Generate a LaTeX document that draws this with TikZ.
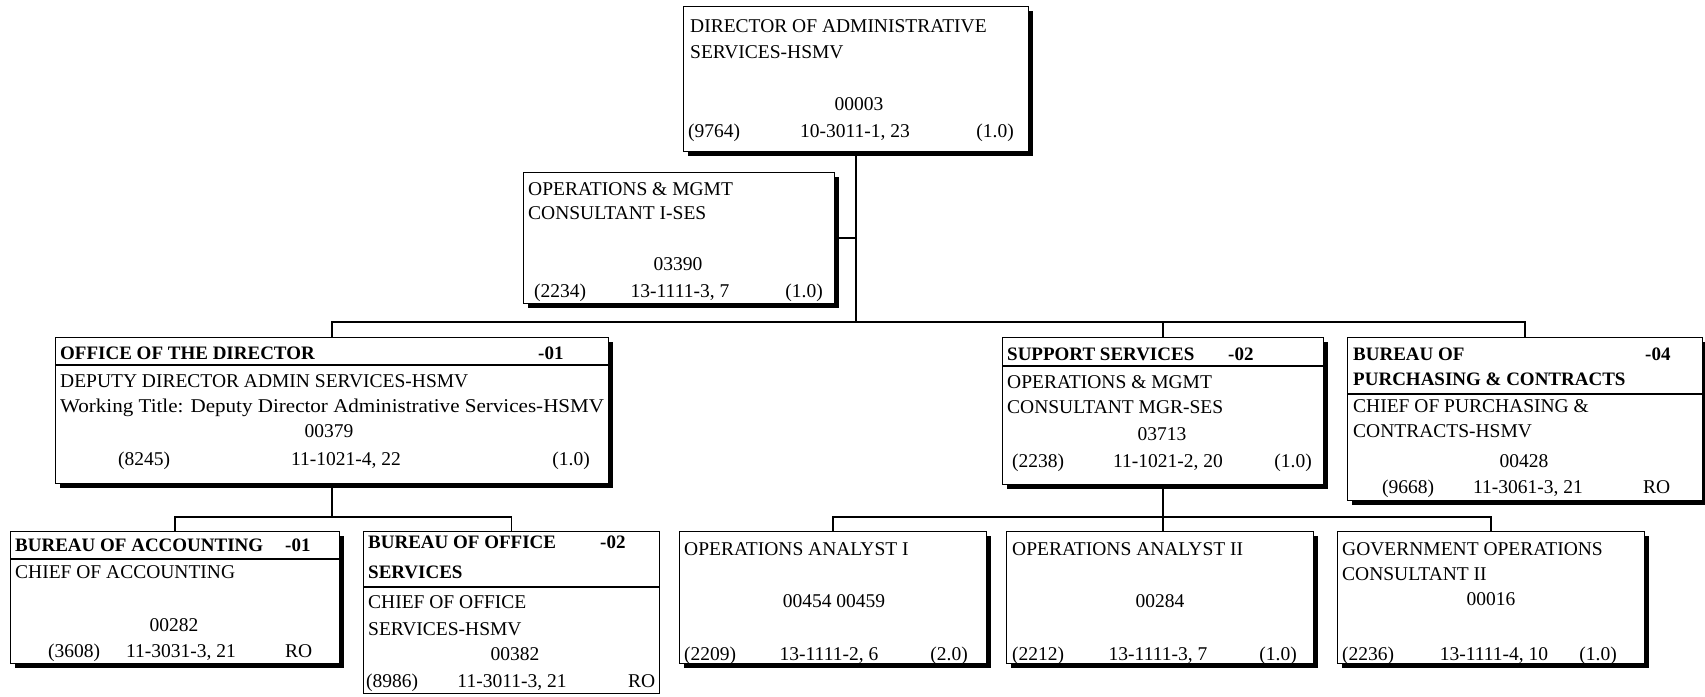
\documentclass[tikz,border=0pt]{standalone}
\usepackage{fontspec}
\setmainfont{Liberation Serif}
\usetikzlibrary{shadows}
\begin{document}
\begin{tikzpicture}[x=1pt,y=-1pt,
  every node/.style={font=\fontsize{19.5}{23}\selectfont},
  box/.style={draw, line width=1.3pt, fill=white, inner sep=0pt, anchor=north west},
  shad/.style={drop shadow={shadow xshift=4pt,shadow yshift=-4pt,fill=black,opacity=1}},
  conn/.style={line width=1.6pt},
  sep/.style={line width=1.3pt},
  tl/.style={inner sep=0pt, anchor=base west},
  tc/.style={inner sep=0pt, anchor=base},
  tr/.style={inner sep=0pt, anchor=base east},
  hd/.style={inner sep=0pt, anchor=base west, font=\fontsize{19}{23}\selectfont\bfseries}]
\useasboundingbox (0,0) rectangle (1705,696);
\fill[white] (0,0) rectangle (1705,696);
% coordinates of the two bus lines
\coordinate (busA) at (0,322);
\coordinate (busB) at (0,517);
% ---------- boxes ----------
\node[box,shad,minimum width=345pt,minimum height=145pt] (top) at (683,6) {};
\node[box,shad,minimum width=311pt,minimum height=131pt] (ops) at (523,172) {};
\node[box,shad,minimum width=553pt,minimum height=146pt] (off) at (55,337) {};
\node[box,shad,minimum width=321pt,minimum height=147pt] (sup) at (1002,337) {};
\node[box,shad,minimum width=355pt,minimum height=163pt] (pur) at (1347,337) {};
\node[box,shad,minimum width=329pt,minimum height=132pt] (acc) at (10,531) {};
\node[box,minimum width=296pt,minimum height=162pt] (osv) at (363,531) {};
\node[box,shad,minimum width=307pt,minimum height=132pt] (an1) at (679,531) {};
\node[box,shad,minimum width=307pt,minimum height=132pt] (an2) at (1006,531) {};
\node[box,shad,minimum width=307pt,minimum height=132pt] (gov) at (1337,531) {};
% header separators
\draw[sep] ([yshift=-28pt]off.north west) -- ([yshift=-28pt]off.north east);
\draw[sep] ([yshift=-29pt]sup.north west) -- ([yshift=-29pt]sup.north east);
\draw[sep] ([yshift=-57pt]pur.north west) -- ([yshift=-57pt]pur.north east);
\draw[sep] ([yshift=-28pt]acc.north west) -- ([yshift=-28pt]acc.north east);
\draw[sep] ([yshift=-56pt]osv.north west) -- ([yshift=-56pt]osv.north east);
% ---------- connectors ----------
\draw[conn] (top.south) -- (top.south |- busA);
\draw[conn] (ops.east) -- (ops.east -| top.south);
\draw[conn] (off.north) |- (busA -| pur.north) -- (pur.north);
\draw[conn] (sup.north) -- (sup.north |- busA);
\draw[conn] (off.south) -- (off.south |- busB);
\draw[conn] (acc.north) |- (busB -| osv.north) -- (osv.north);
\draw[conn] (sup.south) -- (sup.south |- an2.north);
\draw[conn] (an1.north) |- (busB -| gov.north) -- (gov.north);
% ---------- texts ----------
% director
\node[tl] (top1) at (690,32) {DIRECTOR OF ADMINISTRATIVE};
\node[tl] (top2) at (690,58) {SERVICES-HSMV};
\node[tc] (top3) at (859,110) {00003};
\node[tl] (top4) at (688,137) {(9764)};
\node[tc] (top5) at (855,137) {10-3011-1, 23};
\node[tr] (top6) at (1014,137) {(1.0)};
% ops consultant
\node[tl] (ops1) at (528,195) {OPERATIONS \& MGMT};
\node[tl] (ops2) at (528,219) {CONSULTANT I-SES};
\node[tc] (ops3) at (678,270) {03390};
\node[tl] (ops4) at (534,297) {(2234)};
\node[tc] (ops5) at (680,297) {13-1111-3, 7};
\node[tr] (ops6) at (823,297) {(1.0)};
% office of the director
\node[hd] (off1) at (60,359) {OFFICE OF THE DIRECTOR};
\node[hd] (off2) at (538,359) {-01};
\node[tl] (off3) at (60,387) {DEPUTY DIRECTOR ADMIN SERVICES-HSMV};
\node[tl] (off4) at (60,412) {\scalebox{1.08}[1]{Working Title: Deputy Director Administrative Services-HSMV}};
\node[tc] (off5) at (329,437) {00379};
\node[tl] (off6) at (118,465) {(8245)};
\node[tc] (off7) at (346,465) {11-1021-4, 22};
\node[tr] (off8) at (590,465) {(1.0)};
% support services
\node[hd] (sup1) at (1007,360) {SUPPORT SERVICES};
\node[hd] (sup2) at (1228,360) {-02};
\node[tl] (sup3) at (1007,388) {OPERATIONS \& MGMT};
\node[tl] (sup4) at (1007,413) {CONSULTANT MGR-SES};
\node[tc] (sup5) at (1162,440) {03713};
\node[tl] (sup6) at (1012,467) {(2238)};
\node[tc] (sup7) at (1168,467) {11-1021-2, 20};
\node[tr] (sup8) at (1312,467) {(1.0)};
% purchasing
\node[hd] (pur1) at (1353,360) {BUREAU OF};
\node[hd] (pur2) at (1353,385) {PURCHASING \& CONTRACTS};
\node[hd] (pur3) at (1645,360) {-04};
\node[tl] (pur4) at (1353,412) {CHIEF OF PURCHASING \&};
\node[tl] (pur5) at (1353,437) {CONTRACTS-HSMV};
\node[tc] (pur6) at (1524,467) {00428};
\node[tl] (pur7) at (1382,493) {(9668)};
\node[tc] (pur8) at (1528,493) {11-3061-3, 21};
\node[tl] (pur9) at (1643,493) {RO};
% accounting
\node[hd] (acc1) at (15,551) {BUREAU OF ACCOUNTING};
\node[hd] (acc2) at (285,551) {-01};
\node[tl] (acc3) at (15,578) {CHIEF OF ACCOUNTING};
\node[tc] (acc4) at (174,631) {00282};
\node[tl] (acc5) at (48,657) {(3608)};
\node[tc] (acc6) at (181,657) {11-3031-3, 21};
\node[tl] (acc7) at (285,657) {RO};
% office services
\node[hd] (osv1) at (368,548) {BUREAU OF OFFICE};
\node[hd] (osv2) at (368,578) {SERVICES};
\node[hd] (osv3) at (600,548) {-02};
\node[tl] (osv4) at (368,608) {CHIEF OF OFFICE};
\node[tl] (osv5) at (368,635) {SERVICES-HSMV};
\node[tc] (osv6) at (515,660) {00382};
\node[tl] (osv7) at (366,687) {(8986)};
\node[tc] (osv8) at (512,687) {11-3011-3, 21};
\node[tl] (osv9) at (628,687) {RO};
% analyst I
\node[tl] (an11) at (684,555) {OPERATIONS ANALYST I};
\node[tc] (an12) at (834,607) {00454 00459};
\node[tl] (an13) at (684,660) {(2209)};
\node[tc] (an14) at (829,660) {13-1111-2, 6};
\node[tr] (an15) at (968,660) {(2.0)};
% analyst II
\node[tl] (an21) at (1012,555) {OPERATIONS ANALYST II};
\node[tc] (an22) at (1160,607) {00284};
\node[tl] (an23) at (1012,660) {(2212)};
\node[tc] (an24) at (1158,660) {13-1111-3, 7};
\node[tr] (an25) at (1297,660) {(1.0)};
% government operations
\node[tl] (gov1) at (1342,555) {GOVERNMENT OPERATIONS};
\node[tl] (gov2) at (1342,580) {CONSULTANT II};
\node[tc] (gov3) at (1491,605) {00016};
\node[tl] (gov4) at (1342,660) {(2236)};
\node[tc] (gov5) at (1494,660) {13-1111-4, 10};
\node[tr] (gov6) at (1617,660) {(1.0)};
\end{tikzpicture}
\end{document}
